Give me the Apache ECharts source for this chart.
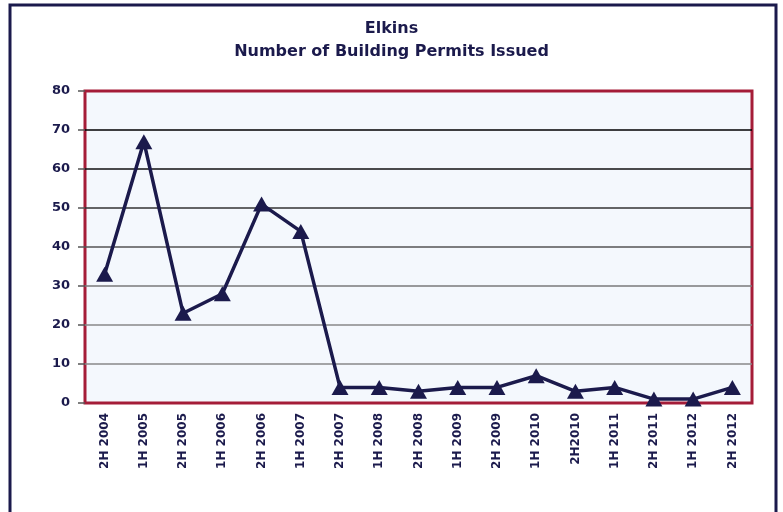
<!DOCTYPE html>
<html><head><meta charset="utf-8">
<script src="https://cdn.jsdelivr.net/npm/echarts@6/dist/echarts.min.js"></script>
<style>html,body{margin:0;padding:0;background:#fff}#c{width:783px;height:512px}</style>
</head><body><div id="c"></div>
<script>
const categories = ['2H 2004','1H 2005','2H 2005','1H 2006','2H 2006','1H 2007','2H 2007','1H 2008','2H 2008','1H 2009','2H 2009','1H 2010','2H2010','1H 2011','2H 2011','1H 2012','2H 2012'];
const permits = [33,67,23,28,51,44,4,4,3,4,4,7,3,4,1,1,4];
const titleLines = ['Elkins','Number of Building Permits Issued'];

const navy = '#1b1a4c';
const red = '#a51d38';
const chart = echarts.init(document.getElementById('c'));
chart.setOption({
  backgroundColor: '#ffffff',
  animation: false,
  title: {
    text: titleLines.join('\n'),
    left: 'center', top: 12,
    textStyle: {fontFamily: 'DejaVu Sans', fontWeight: 'bold', fontSize: 16, color: navy, lineHeight: 23.5}
  },
  graphic: [{
    type: 'rect', shape: {x: 10, y: 5, width: 766, height: 520},
    style: {fill: 'none', stroke: navy, lineWidth: 3}, z: 100
  }],
  grid: {left: 85, right: 31, top: 91, bottom: 109, show: true, backgroundColor: '#f4f8fd', borderColor: red, borderWidth: 3},
  xAxis: {
    type: 'category', data: categories, boundaryGap: true,
    axisLine: {show: false}, axisTick: {show: false},
    axisLabel: {rotate: 90, interval: 0, margin: 10, fontFamily: 'DejaVu Sans', fontWeight: 'bold', fontSize: 12, color: navy}
  },
  yAxis: {
    type: 'value', min: 0, max: 80, interval: 10,
    axisLine: {show: false},
    axisTick: {show: true, length: 7, lineStyle: {color: '#555', width: 1.5}},
    axisLabel: {margin: 15, fontFamily: 'DejaVu Sans', fontWeight: 'bold', fontSize: 13, color: navy},
    splitLine: {show: true, lineStyle: {color: [red,'#888','#888','#7a7a7a','#555','#333','#111','#000',red], width: 1.5}}
  },
  series: [{
    type: 'line', data: permits,
    lineStyle: {color: navy, width: 3.5},
    itemStyle: {color: navy},
    symbol: 'triangle', symbolSize: [17, 15], showSymbol: true
  }]
});
</script></body></html>
